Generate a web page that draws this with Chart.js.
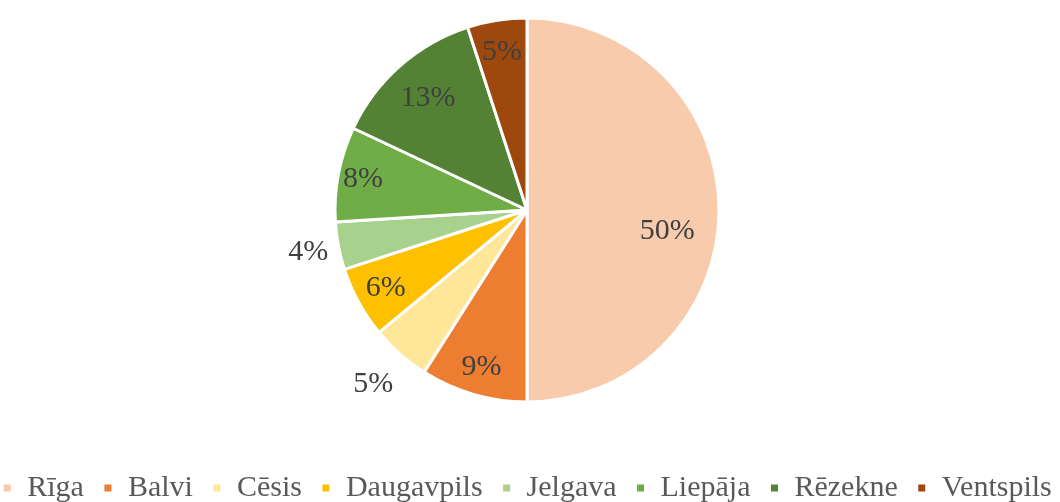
<!DOCTYPE html>
<html>
<head>
<meta charset="utf-8">
<script src="https://cdn.jsdelivr.net/npm/chart.js@4/dist/chart.umd.min.js"></script>
<style>
  html, body { margin: 0; padding: 0; background: #fff; overflow: hidden; }
  body { width: 1060px; height: 502px; position: relative; }
  /* canvas is a bit larger than the window so the legend can spread out and sit low */
  #wrap { position: absolute; left: -20px; top: -34px; width: 1094px; height: 547px; }
</style>
</head>
<body>
<div id="wrap"><canvas id="pie"></canvas></div>
<script>
// data (percent of total)
const cities = ['Rīga', 'Balvi', 'Cēsis', 'Daugavpils', 'Jelgava', 'Liepāja', 'Rēzekne', 'Ventspils'];
const shares = [50, 9, 5, 6, 4, 8, 13, 5];

const sliceColors = ['#F8CBAD', '#ED7D31', '#FFE699', '#FFC000', '#A9D18E', '#70AD47', '#548235', '#9E480E'];

// where each percentage sits, as a fraction of the radius (outside when > 1)
const labelSpots = [
  { r: 0.73, dy: 21 },
  { r: 0.85, dy: 0 },
  { r: 1.21, dy: 0 },
  { r: 0.84, dy: 0 },
  { r: 1.16, dy: 0 },
  { r: 0.87, dy: 0 },
  { r: 0.78, dy: 0 },
  { r: 0.83, dy: 0 }
];

const pctLabels = {
  id: 'pctLabels',
  afterDatasetsDraw(chart) {
    const ctx = chart.ctx;
    const meta = chart.getDatasetMeta(0);
    const values = chart.data.datasets[0].data;
    const total = values.reduce((a, b) => a + b, 0);
    ctx.save();
    ctx.font = '30px "Liberation Serif", "Times New Roman", serif';
    ctx.fillStyle = '#404040';
    ctx.textAlign = 'center';
    ctx.textBaseline = 'middle';
    meta.data.forEach((arc, i) => {
      const p = arc.getProps(['x', 'y', 'startAngle', 'endAngle', 'outerRadius'], true);
      const mid = (p.startAngle + p.endAngle) / 2;
      const spot = labelSpots[i];
      const x = p.x + Math.cos(mid) * p.outerRadius * spot.r;
      const y = p.y + Math.sin(mid) * p.outerRadius * spot.r + spot.dy;
      ctx.fillText(Math.round(values[i] / total * 100) + '%', x, y);
    });
    ctx.restore();
  }
};

new Chart(document.getElementById('pie'), {
  type: 'pie',
  data: {
    labels: cities,
    datasets: [{
      data: shares,
      backgroundColor: sliceColors,
      borderColor: '#ffffff',
      borderWidth: 3
    }]
  },
  options: {
    responsive: true,
    maintainAspectRatio: false,
    animation: false,
    radius: 192,
    plugins: {
      tooltip: { enabled: false },
      legend: {
        position: 'bottom',
        labels: {
          boxWidth: 10,
          boxHeight: 10,
          padding: 19,
          color: '#595959',
          font: { family: '"Liberation Serif", "Times New Roman", serif', size: 30 }
        }
      }
    }
  },
  plugins: [pctLabels]
});
</script>
</body>
</html>
